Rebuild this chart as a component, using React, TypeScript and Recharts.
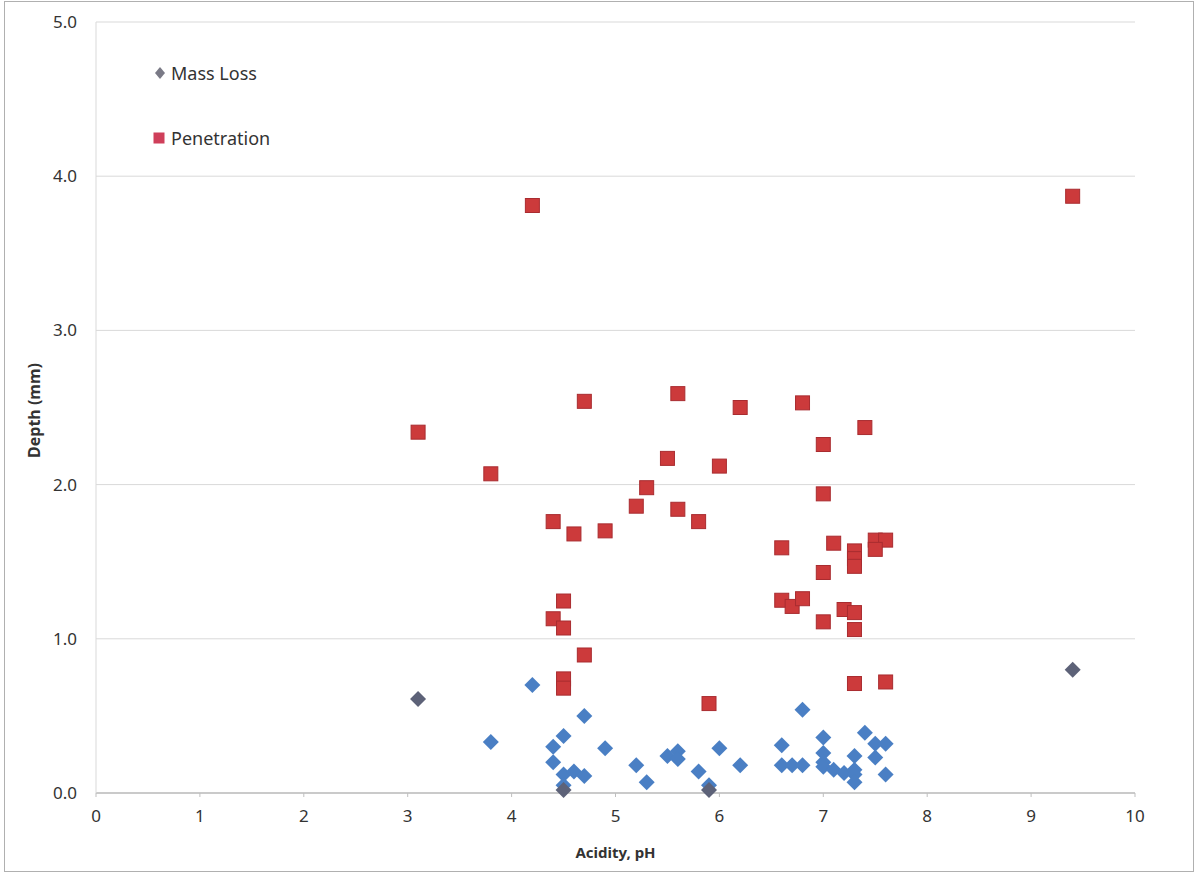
import React from "react";
import {
  ScatterChart,
  Scatter,
  XAxis,
  YAxis,
  CartesianGrid,
  Legend,
} from "recharts";

// Penetration depth (mm) vs. soil acidity (pH)
const penetrationPH = [
  4.2, 9.4, 3.1, 3.8, 4.7, 5.6, 6.2, 6.8, 7.4, 7.0, 5.5, 6.0, 5.3, 7.0, 5.2,
  5.6, 5.8, 4.4, 4.6, 4.9, 6.6, 7.1, 7.3, 7.3, 7.3, 7.5, 7.6, 7.5, 4.5, 4.4,
  4.5, 4.7, 4.5, 4.5, 5.9, 6.6, 6.7, 6.8, 7.0, 7.0, 7.2, 7.3, 7.3, 7.3, 7.6,
];
const penetrationDepth = [
  3.81, 3.87, 2.34, 2.07, 2.54, 2.59, 2.5, 2.53, 2.37, 2.26, 2.17, 2.12, 1.98,
  1.94, 1.86, 1.84, 1.76, 1.76, 1.68, 1.7, 1.59, 1.62, 1.57, 1.52, 1.47, 1.64,
  1.64, 1.58, 1.245, 1.13, 1.07, 0.895, 0.74, 0.68, 0.58, 1.25, 1.21, 1.26,
  1.43, 1.11, 1.19, 1.17, 1.06, 0.71, 0.72,
];

// Mass loss depth (mm), legend series
const massLossPH = [3.1, 9.4, 4.5, 5.9];
const massLossDepth = [0.61, 0.8, 0.02, 0.02];

// Mass loss depth (mm), individual samples
const samplePH = [
  3.8, 4.2, 4.4, 4.5, 4.7, 4.4, 4.5, 4.5, 4.6, 4.7, 4.9, 5.2, 5.3, 5.5, 5.6,
  5.6, 5.8, 5.9, 6.0, 6.2, 6.6, 6.6, 6.7, 6.8, 6.8, 7.0, 7.0, 7.0, 7.0, 7.1,
  7.2, 7.3, 7.3, 7.3, 7.3, 7.4, 7.5, 7.6, 7.5, 7.6,
];
const sampleDepth = [
  0.33, 0.7, 0.3, 0.37, 0.5, 0.2, 0.12, 0.05, 0.14, 0.11, 0.29, 0.18, 0.07,
  0.24, 0.27, 0.22, 0.14, 0.05, 0.29, 0.18, 0.31, 0.18, 0.18, 0.18, 0.54, 0.36,
  0.26, 0.2, 0.17, 0.15, 0.13, 0.24, 0.15, 0.12, 0.07, 0.39, 0.32, 0.32, 0.23,
  0.12,
];

const xTicks = [0, 1, 2, 3, 4, 5, 6, 7, 8, 9, 10];
const yTicks = [0, 1, 2, 3, 4, 5];

const toPoints = (xs: number[], ys: number[]) =>
  xs.map((x, i) => ({ x, y: ys[i] }));

const penetrationData = toPoints(penetrationPH, penetrationDepth);
const massLossData = toPoints(massLossPH, massLossDepth);
const sampleData = toPoints(samplePH, sampleDepth);

const FONT = "'Noto Sans', 'Open Sans', sans-serif";
const TEXT = "#333333";
const RED = "#cc3a3b";
const RED_EDGE = "#a92c30";
const BLUE = "#4a7fc4";
const GREY = "#5d6278";

const Square = (props: any) => {
  const { cx, cy } = props;
  if (cx == null || cy == null) return null;
  const s = 14;
  return (
    <rect
      x={cx - s / 2}
      y={cy - s / 2}
      width={s}
      height={s}
      fill={RED}
      stroke={RED_EDGE}
      strokeWidth={1}
    />
  );
};

const makeDiamond = (fill: string) => (props: any) => {
  const { cx, cy } = props;
  if (cx == null || cy == null) return null;
  const r = 8;
  return (
    <path
      d={`M${cx},${cy - r} L${cx + r},${cy} L${cx},${cy + r} L${cx - r},${cy} Z`}
      fill={fill}
    />
  );
};

const BlueDiamond = makeDiamond(BLUE);
const GreyDiamond = makeDiamond(GREY);

const legendText: React.CSSProperties = {
  position: "absolute",
  left: 171,
  fontSize: 18,
  color: TEXT,
  whiteSpace: "nowrap",
  lineHeight: "22px",
};

const LegendBox = () => (
  <div style={{ position: "relative", width: 300, height: 160, fontFamily: FONT }}>
    <svg
      width={14}
      height={14}
      style={{ position: "absolute", left: 153, top: 66 }}
    >
      <path d="M7,1 L12,7 L7,13 L2,7 Z" fill="#7a7a86" />
    </svg>
    <span style={{ ...legendText, top: 62 }}>Mass Loss</span>
    <svg
      width={12}
      height={12}
      style={{ position: "absolute", left: 153, top: 132 }}
    >
      <rect x={0.5} y={0.5} width={11} height={11} fill="#cf3f5a" />
    </svg>
    <span style={{ ...legendText, top: 127 }}>Penetration</span>
  </div>
);

const YTitle = (props: any) => {
  const { viewBox } = props;
  const x = viewBox.x + 34;
  const y = viewBox.y + viewBox.height / 2 + 3;
  return (
    <text
      x={x}
      y={y}
      transform={`rotate(-90, ${x}, ${y})`}
      textAnchor="middle"
      dominantBaseline="central"
      fontFamily={FONT}
      fontSize={16}
      fontWeight="bold"
      fill={TEXT}
    >
      Depth (mm)
    </text>
  );
};

const XTitle = (props: any) => {
  const { viewBox } = props;
  return (
    <text
      x={viewBox.x + viewBox.width / 2}
      y={viewBox.y + 59}
      textAnchor="middle"
      dominantBaseline="central"
      fontFamily={FONT}
      fontSize={15}
      fontWeight="bold"
      fill={TEXT}
    >
      Acidity, pH
    </text>
  );
};

export default function App() {
  return (
    <div
      style={{
        position: "absolute",
        left: 0,
        top: 0,
        width: 1198,
        height: 875,
        background: "#ffffff",
      }}
    >
      <div
        style={{
          position: "absolute",
          left: 4,
          top: 1,
          width: 1188,
          height: 869,
          border: "1px solid #b0b0b0",
        }}
      />
      <ScatterChart
        width={1198}
        height={875}
        margin={{ top: 22, right: 63, bottom: 0, left: 0 }}
        style={{ position: "absolute", left: 0, top: 0 }}
      >
        <CartesianGrid vertical={false} stroke="#d9d9d9" strokeWidth={1} />
        <XAxis
          type="number"
          dataKey="x"
          domain={[0, 10]}
          ticks={xTicks}
          interval={0}
          height={82}
          axisLine={{ stroke: "#bfbfbf", strokeWidth: 1.5 }}
          tickLine={{ stroke: "#bfbfbf" }}
          tickSize={4}
          tickMargin={13}
          tick={{ fontFamily: FONT, fontSize: 17, fill: TEXT }}
          label={<XTitle />}
        />
        <YAxis
          type="number"
          dataKey="y"
          domain={[0, 5]}
          ticks={yTicks}
          interval={0}
          width={96}
          axisLine={{ stroke: "#d9d9d9", strokeWidth: 1 }}
          tickLine={false}
          tickMargin={13}
          tickFormatter={(v: number) => v.toFixed(1)}
          tick={{ fontFamily: FONT, fontSize: 17, fill: TEXT }}
          label={<YTitle />}
        />
        <Legend
          layout="vertical"
          align="center"
          verticalAlign="middle"
          content={<LegendBox />}
          wrapperStyle={{ position: "absolute", left: 0, top: 0, width: 300, height: 160 }}
        />
        <Scatter
          name="Mass Loss samples"
          data={sampleData}
          shape={BlueDiamond}
          legendType="none"
          isAnimationActive={false}
        />
        <Scatter
          name="Mass Loss"
          data={massLossData}
          shape={GreyDiamond}
          isAnimationActive={false}
        />
        <Scatter
          name="Penetration"
          data={penetrationData}
          shape={Square}
          isAnimationActive={false}
        />
      </ScatterChart>
    </div>
  );
}
